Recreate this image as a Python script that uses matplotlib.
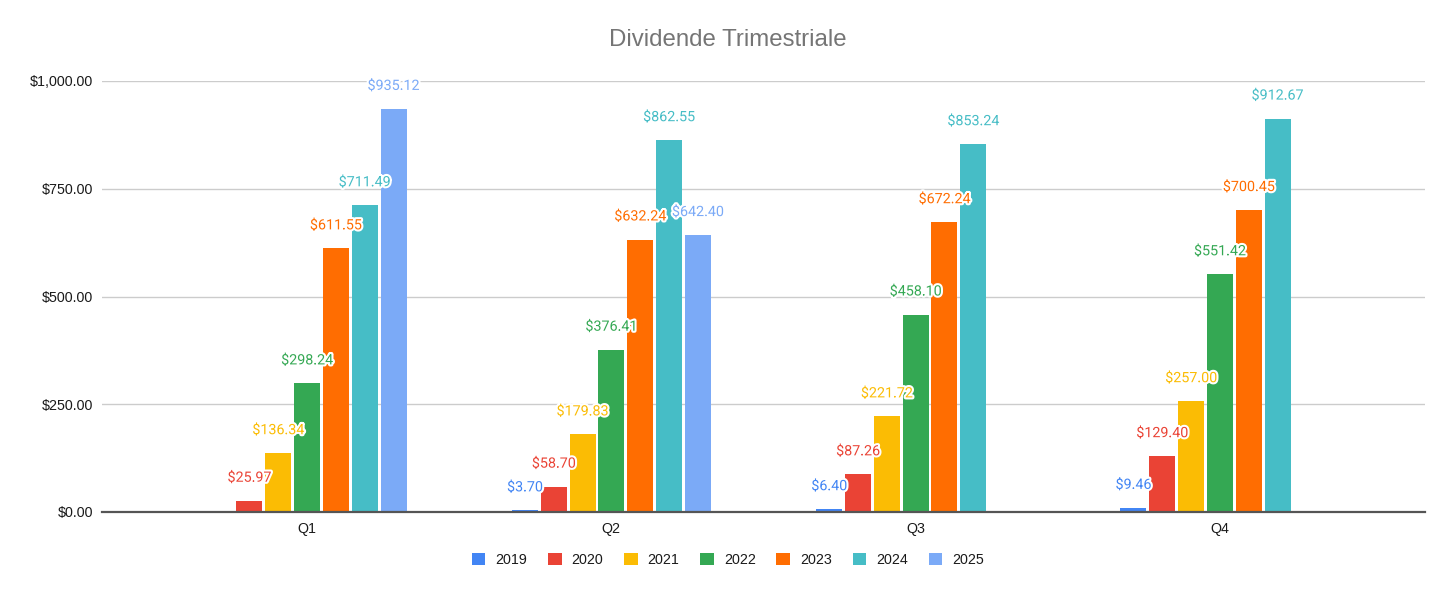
import matplotlib
matplotlib.use("Agg")
import matplotlib.pyplot as plt
import matplotlib.patheffects as pe
import numpy as np

quarters = ["Q1", "Q2", "Q3", "Q4"]
years = ["2019", "2020", "2021", "2022", "2023", "2024", "2025"]
v2019 = [None, 3.70, 6.40, 9.46]
v2020 = [25.97, 58.70, 87.26, 129.40]
v2021 = [136.34, 179.83, 221.72, 257.00]
v2022 = [298.24, 376.41, 458.10, 551.42]
v2023 = [611.55, 632.24, 672.24, 700.45]
v2024 = [711.49, 862.55, 853.24, 912.67]
v2025 = [935.12, 642.40, None, None]
yticks = [0, 250, 500, 750, 1000]
ytick_labels = ["$0.00", "$250.00", "$500.00", "$750.00", "$1,000.00"]

series = [v2019, v2020, v2021, v2022, v2023, v2024, v2025]
colors = ["#4285F4", "#EA4335", "#FBBC04", "#34A853", "#FF6D01", "#46BDC6", "#7BAAF7"]

fig = plt.figure(figsize=(14.56, 5.98), dpi=100)
ax = fig.add_axes([102/1456, 1-512/598, (1425-102)/1456, (512-81)/598])

pitch = 0.0947
width = 0.0854
x = np.arange(len(quarters))
handles = []
for i, (yr, vals, col) in enumerate(zip(years, series, colors)):
    off = (i - 3) * pitch
    xs = [xi + off for xi, v in zip(x, vals) if v is not None]
    ys = [v for v in vals if v is not None]
    bc = ax.bar(xs, ys, width=width, color=col, label=yr, zorder=3)
    handles.append(bc)
    for xx, yy in zip(xs, ys):
        ax.annotate(f"${yy:,.2f}", (xx, yy), xytext=(0, 16.6), textcoords="offset points",
                    ha="center", va="center", color=col, fontsize=10.3, family="Roboto",
                    zorder=5, annotation_clip=False,
                    path_effects=[pe.withStroke(linewidth=3, foreground="white")])

ax.set_xlim(-0.674, 3.674)
ax.set_ylim(0, 1000)
ax.set_yticks(yticks)
ax.set_yticklabels(ytick_labels, family="Liberation Sans", fontsize=10.3, color="#1a1a1a")
ax.set_xticks(x)
ax.set_xticklabels(quarters, family="Liberation Sans", fontsize=10.3, color="#1a1a1a")
ax.tick_params(axis="both", length=0)
ax.tick_params(axis="y", pad=6.5)
ax.tick_params(axis="x", pad=7)
ax.grid(axis="y", color="#cccccc", linewidth=1, zorder=0)
for s in ["top", "right", "left"]:
    ax.spines[s].set_visible(False)
ax.spines["bottom"].set_color("#555555")
ax.spines["bottom"].set_linewidth(1.6)
ax.spines["bottom"].set_zorder(4)

fig.text(0.5, 1-40/598, "Dividende Trimestriale", ha="center", va="center",
         fontsize=17.3, color="#757575", family="Liberation Sans")

leg = fig.legend(handles=handles, labels=years, loc="center", bbox_to_anchor=(0.5, 1-560/598),
                 ncol=7, frameon=False, prop={"family": "Liberation Sans", "size": 10.3},
                 handlelength=0.95, handleheight=0.95, handletextpad=0.7, columnspacing=1.45)
for t in leg.get_texts():
    t.set_color("#1a1a1a")

fig.savefig("out.png", dpi=100)
